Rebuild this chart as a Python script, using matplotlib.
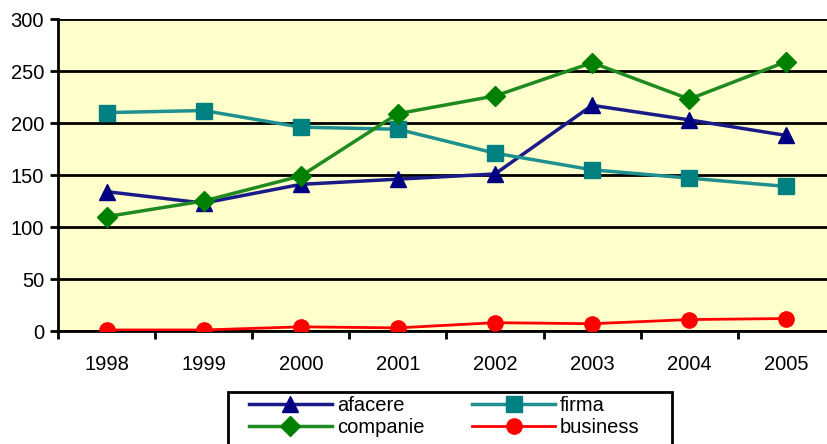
import matplotlib
matplotlib.use('Agg')
import matplotlib.pyplot as plt
from matplotlib.patches import Rectangle
import numpy as np

plt.rcParams['font.family'] = ['Liberation Sans', 'DejaVu Sans']

years = ['1998', '1999', '2000', '2001', '2002', '2003', '2004', '2005']
afacere = [134, 123, 141, 146, 151, 217, 203, 188]
firma = [210, 212, 196, 194, 171, 155, 147, 139]
companie = [110, 125, 149, 209, 226, 258, 223, 259]
business = [1, 1, 4, 3, 8, 7, 11, 12]

W, H = 828, 444
fig = plt.figure(figsize=(W / 100, H / 100), dpi=100)
ax = fig.add_axes([0.070, 0.2545, 0.9384, 0.7027])
ax.set_facecolor('#FFFFCC')

x = np.arange(len(years))

# serie
l1, = ax.plot(x, afacere, color='#1a1a88', lw=2.5, marker='^', ms=12,
              mfc='#000080', mec='#000080', label='afacere', zorder=4)
l2, = ax.plot(x, firma, color='#1f9090', lw=2.5, marker='s', ms=12,
              mfc='#008080', mec='#008080', label='firma', zorder=4)
l3, = ax.plot(x, companie, color='#1f8a1f', lw=2.5, marker='D', ms=10,
              mfc='#008000', mec='#008000', label='companie', zorder=4)
l4, = ax.plot(x, business, color='#FF0000', lw=2, marker='o', ms=11,
              mfc='#FF0000', mec='#FF0000', label='business', zorder=4)

ax.set_xlim(-0.5, len(years) - 0.5)
ax.set_ylim(0, 300)
ax.set_yticks(range(0, 301, 50))
ax.set_xticks(x)
ax.set_xticklabels(years)
ax.set_xticks(np.arange(-0.5, len(years), 1), minor=True)

ax.yaxis.grid(True, color='black', lw=2)
ax.set_axisbelow(True)
for s in ['top', 'right']:
    ax.spines[s].set_visible(False)
ax.spines['left'].set_linewidth(2)
ax.spines['bottom'].set_linewidth(2)

ax.tick_params(axis='y', which='major', direction='out', length=6, width=2,
               labelsize=14.5, pad=4)
ax.tick_params(axis='x', which='major', length=0, labelsize=14.5, pad=17)
ax.tick_params(axis='x', which='minor', direction='out', length=6, width=2)

# ramka legendy osobno (szerszy margines po bokach)
fig.patches.append(Rectangle((228 / W, -0.05), (672 - 228) / W, 0.05 + 1 - 392 / H,
                             transform=fig.transFigure, facecolor='white',
                             edgecolor='black', lw=2, zorder=1))

# kolejnosc jak w oryginale: afacere/firma w pierwszym rzedzie
leg = fig.legend([l1, l3, l2, l4], ['afacere', 'companie', 'firma', 'business'],
                 loc='upper left', bbox_to_anchor=(245 / W, 1 - 392 / H), ncol=2,
                 fontsize=14.5, handlelength=4.1, handletextpad=0.25,
                 columnspacing=2.4, labelspacing=0.15, borderpad=0.2,
                 borderaxespad=0, frameon=False)

fig.savefig('out.png', dpi=100)
